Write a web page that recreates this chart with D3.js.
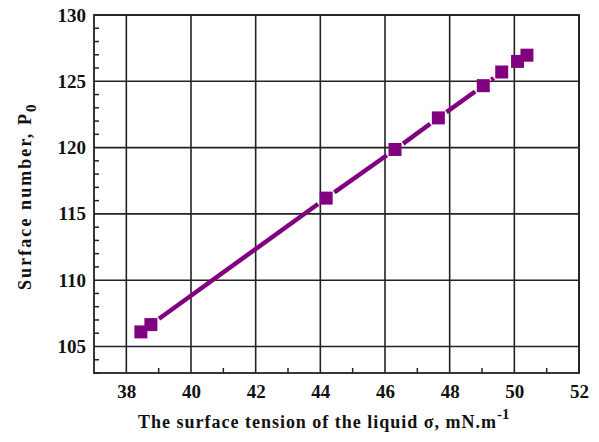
<!DOCTYPE html>
<html><head><meta charset="utf-8">
<script src="https://cdn.jsdelivr.net/npm/d3@7"></script>
<style>body{margin:0;background:#fff}svg{display:block}</style>
</head><body>
<svg id="c" width="599" height="442"></svg>
<script>
const sigma = [38.45, 38.76, 44.18, 46.31, 47.65, 49.04, 49.61, 50.10, 50.39];
const P0 = [106.1, 106.65, 116.19, 119.86, 122.24, 124.67, 125.7, 126.5, 126.97];
const xTicks = [38, 40, 42, 44, 46, 48, 50, 52];
const yTicks = [105, 110, 115, 120, 125, 130];
const xMinor = [37, 39, 41, 43, 45, 47, 49, 51];
const yMinor = d3.range(103, 131, 1);

const svg = d3.select("#c");
const L = 94, R = 579, T = 15, B = 373;
const x = d3.scaleLinear().domain([37, 52]).range([L, R]);
const y = d3.scaleLinear().domain([103, 130]).range([B, T]);
const font = "'Liberation Serif','Times New Roman',serif";
const col = "#800080";

// grid
svg.append("g").selectAll("line").data(xTicks).join("line")
  .attr("x1", d => x(d)).attr("x2", d => x(d)).attr("y1", T).attr("y2", B)
  .attr("stroke", "#222").attr("stroke-width", 1.6);
svg.append("g").selectAll("line").data(yTicks).join("line")
  .attr("y1", d => y(d)).attr("y2", d => y(d)).attr("x1", L).attr("x2", R)
  .attr("stroke", "#222").attr("stroke-width", 1.6);

// axes with inward minor ticks
const xAxis = svg.append("g").attr("transform", `translate(0,${B})`)
  .call(d3.axisBottom(x).tickValues(xTicks).tickSize(0).tickPadding(12).tickFormat(d3.format("d")));
const yAxis = svg.append("g").attr("transform", `translate(${L},0)`)
  .call(d3.axisLeft(y).tickValues(yTicks).tickSize(0).tickPadding(8).tickFormat(d3.format("d")));
[xAxis, yAxis].forEach(g => {
  g.select(".domain").remove();
  g.selectAll("text").attr("font-family", font).attr("font-weight", "bold")
    .attr("font-size", 19).attr("fill", "#111");
});
svg.append("g").selectAll("line").data(xMinor.filter(d => d > 37)).join("line")
  .attr("x1", d => x(d)).attr("x2", d => x(d)).attr("y1", B).attr("y2", B - 5)
  .attr("stroke", "#222").attr("stroke-width", 1.5);
svg.append("g").selectAll("line").data(yMinor.filter(d => d % 5 !== 0)).join("line")
  .attr("y1", d => y(d)).attr("y2", d => y(d)).attr("x1", L).attr("x2", L + 5)
  .attr("stroke", "#222").attr("stroke-width", 1.5);

// frame
svg.append("rect").attr("x", L).attr("y", T).attr("width", R - L).attr("height", B - T)
  .attr("fill", "none").attr("stroke", "#222").attr("stroke-width", 1.8);

// line segments with gaps around symbols
const gap = 10;
const pts = sigma.map((s, i) => [x(s), y(P0[i])]);
const segs = [];
for (let i = 0; i < pts.length - 1; i++) {
  const [x1, y1] = pts[i], [x2, y2] = pts[i + 1];
  const len = Math.hypot(x2 - x1, y2 - y1);
  if (len > 2 * gap + 2) {
    const ux = (x2 - x1) / len, uy = (y2 - y1) / len;
    segs.push([x1 + ux * gap, y1 + uy * gap, x2 - ux * gap, y2 - uy * gap]);
  }
}
svg.append("g").selectAll("line").data(segs).join("line")
  .attr("x1", d => d[0]).attr("y1", d => d[1]).attr("x2", d => d[2]).attr("y2", d => d[3])
  .attr("stroke", col).attr("stroke-width", 4.5);

// markers
const ms = 13;
svg.append("g").selectAll("rect").data(pts).join("rect")
  .attr("x", d => d[0] - ms / 2).attr("y", d => d[1] - ms / 2)
  .attr("width", ms).attr("height", ms).attr("fill", col);

// axis titles
const xt = svg.append("text").attr("x", 138).attr("y", 428)
  .attr("font-family", font).attr("font-weight", "bold").attr("font-size", 18).attr("fill", "#111");
xt.append("tspan").attr("textLength", 358).attr("lengthAdjust", "spacing")
  .text("The surface tension of the liquid σ, mN.m");
xt.append("tspan").attr("dy", -9).attr("font-size", 15).text("-1");

const yt = svg.append("text").attr("transform", "translate(31,290) rotate(-90)")
  .attr("font-family", font).attr("font-weight", "bold").attr("font-size", 18).attr("fill", "#111");
yt.append("tspan").attr("textLength", 176).attr("lengthAdjust", "spacing")
  .text("Surface number,  P");
yt.append("tspan").attr("dy", 5).attr("font-size", 15).text("0");
</script>
</body></html>
